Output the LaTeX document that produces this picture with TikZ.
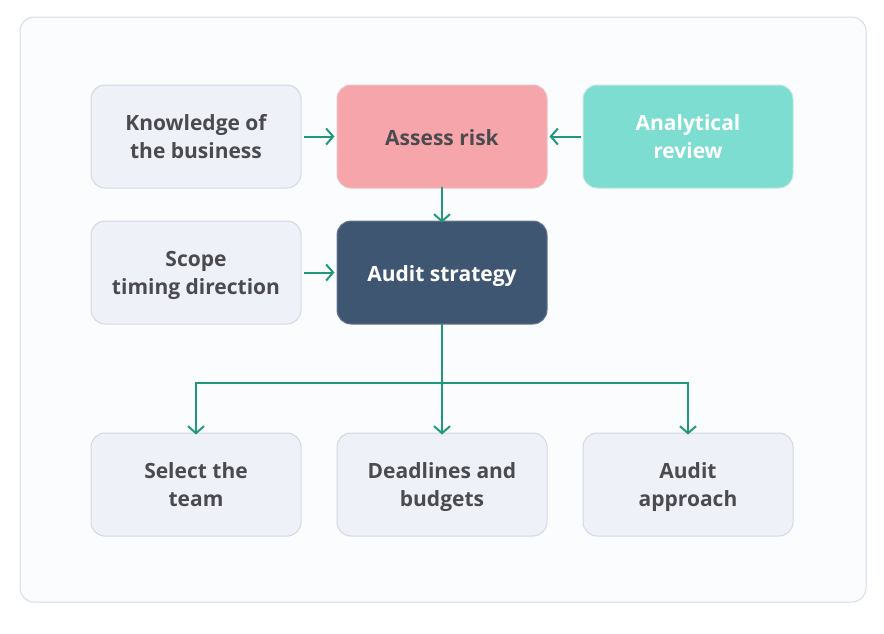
\documentclass[tikz,border=0pt]{standalone}
\usepackage{fontspec}
\setmainfont{Open Sans}
\usetikzlibrary{arrows.meta}
\definecolor{frameb}{HTML}{D6DCE6}
\definecolor{framef}{HTML}{FBFCFD}
\definecolor{lightf}{HTML}{EFF1F9}
\definecolor{lightb}{HTML}{D3D8E2}
\definecolor{txt}{HTML}{4B4B4F}
\definecolor{riskf}{HTML}{F6A6AA}
\definecolor{anaf}{HTML}{7CDDD0}
\definecolor{stratf}{HTML}{3F5673}
\definecolor{arr}{HTML}{21987C}
\tikzset{
  box/.style={rounded corners=14pt, minimum width=210pt, minimum height=103pt, align=center,
    font=\fontsize{21}{28}\selectfont\bfseries, line width=1pt, inner sep=0pt, text depth=0pt},
  single/.style={text height=18pt},
  lightbox/.style={box, fill=lightf, draw=lightb, text=txt},
  riskbox/.style={box, fill=riskf, draw=riskf!90!black!60, text=txt},
  anabox/.style={box, fill=anaf, draw=anaf!90!black!40, text=white},
  stratbox/.style={box, fill=stratf, draw=stratf!80!white, text=white},
  conn/.style={draw=arr, line width=2pt, -{Straight Barb[length=7pt,width=16pt,line width=2pt]}},
  link/.style={draw=arr, line width=2pt}
}
\begin{document}
\begin{tikzpicture}[x=1pt,y=-1pt]
\useasboundingbox (0,0) rectangle (884,633);
\fill[white] (0,0) rectangle (884,633);
\draw[frameb, fill=framef, line width=1pt, rounded corners=14pt] (20,17) rectangle (866,602);
\node[lightbox] (know) at (196,136.5) {Knowledge of\\the business};
\node[riskbox, single] (risk) at (442,136.5) {Assess risk};
\node[anabox] (ana) at (688,136.5) {Analytical\\review};
\node[lightbox] (scope) at (196,272.5) {Scope\\timing direction};
\node[stratbox, single] (strat) at (442,272.5) {Audit strategy};
\node[lightbox] (team) at (196,484.5) {Select the\\team};
\node[lightbox] (dead) at (442,484.5) {Deadlines and\\budgets};
\node[lightbox] (appr) at (688,484.5) {Audit\\approach};
\coordinate (split) at (442,383);
\draw[conn] ([xshift=2pt]know.east) -- ([xshift=-2pt]risk.west);
\draw[conn] ([xshift=-2pt]ana.west) -- ([xshift=2pt]risk.east);
\draw[conn] ([yshift=2pt]risk.south) -- ([yshift=-2pt]strat.north);
\draw[conn] ([xshift=2pt]scope.east) -- ([xshift=-2pt]strat.west);
\draw[link] ([yshift=1pt]strat.south) -- (split);
\draw[conn] (split) -- ([yshift=-2pt]dead.north);
\draw[conn] (split) -| ([yshift=-2pt]team.north);
\draw[conn] (split) -| ([yshift=-2pt]appr.north);
\end{tikzpicture}
\end{document}
